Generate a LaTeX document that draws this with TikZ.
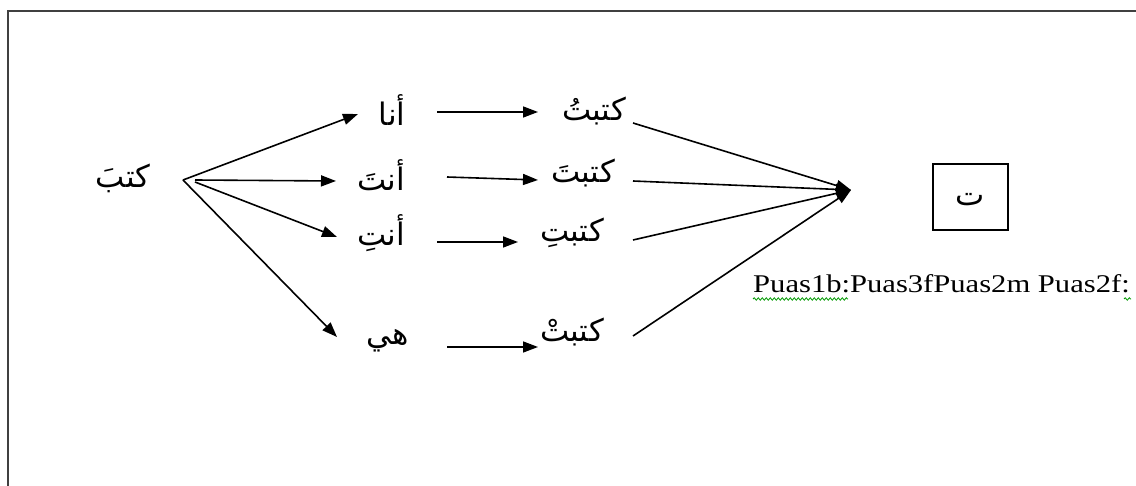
\documentclass[tikz,border=0pt]{standalone}
\usepackage{fontspec}
\setmainfont{Liberation Serif}
\newfontfamily\arabicfont[Script=Arabic]{DejaVu Sans}
\TeXXeTstate=1
\usetikzlibrary{arrows.meta,decorations.pathmorphing}
\begin{document}
\begin{tikzpicture}[x=1pt,y=-1pt,
  ar/.style={font=\arabicfont\fontsize{31}{36}\selectfont, inner sep=0pt},
  conn/.style={line width=1.6pt, draw=black, -{Triangle[length=15pt,width=11pt]}},
  frame/.style={line width=2pt, draw=black!75},
  squig/.style={draw=green!60!black, line width=0.8pt, decorate, decoration={snake, amplitude=1.2pt, segment length=4pt}}]
\useasboundingbox (0,0) rectangle (1136,486);
\draw[frame] (8,486) -- (8,11) -- (1136,11);
% text nodes
\node[ar] (kataba) at (123,178) {\beginR كتبَ\endR};
\node[ar] (ana) at (392,110) {\beginR أنا\endR};
\node[ar] (anta) at (381,175) {\beginR أنتَ\endR};
\node[ar] (anti) at (381,233) {\beginR أنتِ\endR};
\node[ar] (hiya) at (388,341) {\beginR هي\endR};
\node[ar] (katabtu) at (594,111) {\beginR كتبتُ\endR};
\node[ar] (katabta) at (583,173) {\beginR كتبتَ\endR};
\node[ar] (katabti) at (572,233) {\beginR كتبتِ\endR};
\node[ar] (katabat) at (572,332) {\beginR كتبتْ\endR};
\node[draw, line width=1.4pt, minimum width=75pt, minimum height=66pt, inner sep=0pt] (box) at (970.5,197) {};
\node[ar] (ta) at (970,200) {\beginR ت\endR};
\node[anchor=base west, inner sep=0pt, font=\fontsize{25.5}{28}\selectfont] (lab) at (753,293) {\scalebox{1.2}[1]{Puas1b:Puas3fPuas2m Puas2f:}};
% connector end points
\coordinate (src) at (183,180);
\coordinate (srcb) at (195,180);
\coordinate (srcc) at (195,182);
\coordinate (sink) at (851,190);
\coordinate (t1) at (358,114);
\coordinate (t2) at (336,181);
\coordinate (t3) at (337,237);
\coordinate (t4) at (337,337);
\coordinate (m1a) at (437,112); \coordinate (m1b) at (538,112);
\coordinate (m2a) at (447,177); \coordinate (m2b) at (538,180);
\coordinate (m3a) at (437,242); \coordinate (m3b) at (518,242);
\coordinate (m4a) at (447,347); \coordinate (m4b) at (538,347);
\coordinate (r1) at (633,123);
\coordinate (r2) at (633,181);
\coordinate (r3) at (633,240);
\coordinate (r4) at (633,336);
% connectors
\draw[conn] (src) -- (t1);
\draw[conn] (srcb) -- (t2);
\draw[conn] (srcc) -- (t3);
\draw[conn] (src) -- (t4);
\draw[conn] (m1a) -- (m1b);
\draw[conn] (m2a) -- (m2b);
\draw[conn] (m3a) -- (m3b);
\draw[conn] (m4a) -- (m4b);
\draw[conn] (r1) -- (sink);
\draw[conn] (r2) -- (sink);
\draw[conn] (r3) -- (sink);
\draw[conn] (r4) -- (sink);
% spell-check squiggles
\draw[squig] (753,299) -- (848,299);
\draw[squig] (1124,299) -- (1131,299);
\end{tikzpicture}
\end{document}
